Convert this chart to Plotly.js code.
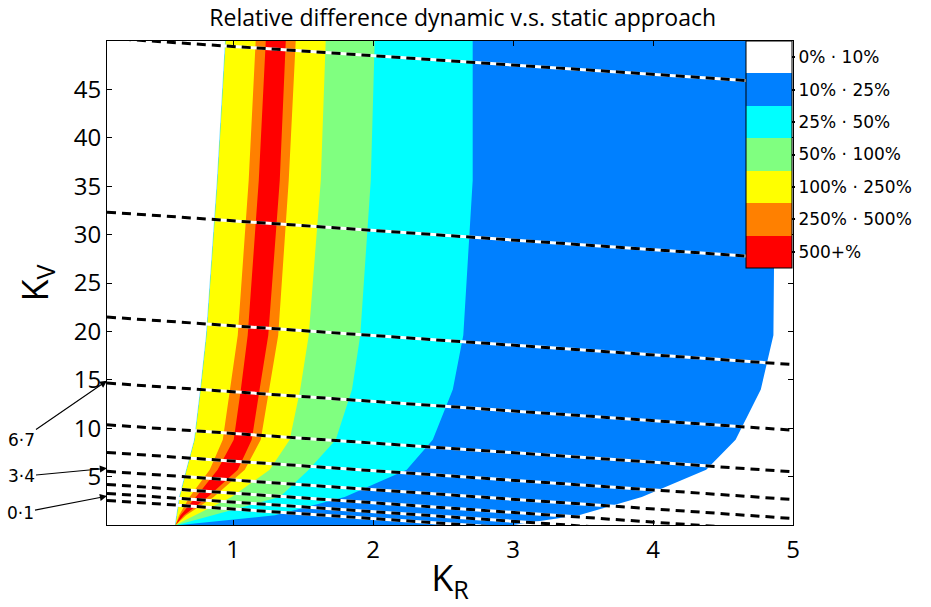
<!DOCTYPE html>
<html><head><meta charset="utf-8">
<script src="https://cdn.plot.ly/plotly-3.0.1.min.js"></script>
<style>html,body{margin:0;padding:0;background:#fff}</style>
</head><body><div id="chart" style="width:931px;height:607px"></div>
<script>
// Rows of K_V at which the band boundaries (in K_R) were read
const kvRows = [0, 1.0, 2.9, 5.7, 8.8, 14.0, 19.6, 35.6, 50];
// Left edge of the computed region (white to the left)
const edgeKR = [0.59, 0.60, 0.62, 0.67, 0.727, 0.77, 0.812, 0.89, 0.948];
// 250% and 500% rising boundaries
const up250 = [0.59, 0.615, 0.69, 0.834, 0.927, 0.98, 1.034, 1.112, 1.162];
const up500 = [0.59, 0.625, 0.735, 0.89, 1.005, 1.056, 1.105, 1.184, 1.234];
// falling boundaries
const down500 = [0.59, 0.65, 0.82, 1.034, 1.134, 1.19, 1.252, 1.334, 1.377];
const down250 = [0.59, 0.665, 0.862, 1.084, 1.198, 1.26, 1.323, 1.398, 1.448];
const down100 = [0.59, 0.72, 0.99, 1.262, 1.405, 1.48, 1.541, 1.627, 1.662];
const down50  = [0.60, 0.85, 1.334, 1.541, 1.734, 1.85, 1.909, 1.984, 2.012];
const down25  = [0.62, 1.30, 1.798, 2.241, 2.427, 2.57, 2.645, 2.712, 2.712];
const down10  = [3.0, 3.47, 3.92, 4.38, 4.59, 4.77, 4.86, 4.87, 4.87];

// Dashed lines: K_V at K_R = 0.1 and at K_R = 5
const lineX = [0.1, 5];
const lineStartKV = [50.3, 32.32, 21.48, 14.66, 10.35, 7.5, 5.54, 4.19, 3.26, 2.54];
const lineEndKV   = [45.6, 27.45, 16.57, 9.79, 5.49, 2.63, 0.67, -0.7, -1.6, -2.3];

// Colour bands (top of the colour bar first)
const bandLabels = ['0% · 10%', '10% · 25%', '25% · 50%', '50% · 100%', '100% · 250%', '250% · 500%', '500+%'];
const bandColors = ['#FFFFFF', '#0080FF', '#00FFFF', '#80FF80', '#FFFF00', '#FF8000', '#FF0000'];

// Arrow labels
const arrowTexts = ['6·7', '3·4', '0·1'];
const arrowKV = [14.9, 5.85, 2.99];

const xTicks = [1, 2, 3, 4, 5];
const yTicks = [5, 10, 15, 20, 25, 30, 35, 40, 45];

function band(left, right, color) {
  return {
    type: 'scatter', mode: 'lines', fill: 'toself', fillcolor: color,
    line: {width: 0, color: color}, hoverinfo: 'skip', showlegend: false,
    x: left.concat(right.slice().reverse()),
    y: kvRows.concat(kvRows.slice().reverse())
  };
}

const traces = [];
traces.push({type: 'scatter', mode: 'lines', x: edgeKR, y: kvRows,
  line: {color: '#7FE0FF', width: 1.5}, hoverinfo: 'skip', showlegend: false});
traces.push(band(edgeKR, down10, bandColors[1]));
traces.push(band(edgeKR, down25, bandColors[2]));
traces.push(band(edgeKR, down50, bandColors[3]));
traces.push(band(edgeKR, down100, bandColors[4]));
traces.push(band(up250, down250, bandColors[5]));
traces.push(band(up500, down500, bandColors[6]));

for (let i = 0; i < lineStartKV.length; i++) {
  traces.push({type: 'scatter', mode: 'lines', x: lineX, y: [lineStartKV[i], lineEndKV[i]],
    line: {color: '#FFFFFF', width: 3}, hoverinfo: 'skip', showlegend: false});
  traces.push({type: 'scatter', mode: 'lines', x: lineX, y: [lineStartKV[i], lineEndKV[i]],
    line: {color: '#000000', width: 3, dash: '9px,6px'}, hoverinfo: 'skip', showlegend: false});
}

// colour bar (reversed so the lowest band sits on top)
const n = bandColors.length;
const cs = [];
for (let k = 0; k < n; k++) {
  const c = bandColors[n - 1 - k];
  cs.push([k / n, c]); cs.push([(k + 1) / n, c]);
}
traces.push({type: 'scatter', mode: 'markers', x: [-10], y: [-10], hoverinfo: 'skip', showlegend: false,
  marker: {color: [0], cmin: 0, cmax: n, colorscale: cs, showscale: true, size: 1,
    colorbar: {x: 0.931, xanchor: 'left', y: 1, yanchor: 'top', len: 0.468, lenmode: 'fraction',
      thickness: 46, thicknessmode: 'pixels', xpad: 0, ypad: 0, outlinewidth: 1, outlinecolor: '#000',
      tickmode: 'array', tickvals: bandLabels.map((_, i) => n - 0.5 - i), ticktext: bandLabels,
      ticks: 'outside', ticklen: 3, tickwidth: 2, tickcolor: '#000',
      tickfont: {family: 'DejaVu Sans', size: 17, color: '#000'}}}});

const annotations = arrowTexts.map((t, i) => ({
  text: t, xref: 'paper', x: 0, yref: 'y', y: arrowKV[i],
  ax: [-86, -86, -87][i], ay: [59, 8, 17][i], showarrow: true,
  arrowhead: 2, arrowsize: 1.3, arrowwidth: 1.1, arrowcolor: '#000',
  font: {family: 'DejaVu Sans', size: 17, color: '#000'}
}));

const layout = {
  width: 931, height: 607,
  margin: {l: 107, r: 138, t: 41, b: 82, pad: 0},
  paper_bgcolor: '#fff', plot_bgcolor: '#fff',
  title: {text: 'Relative difference dynamic v.s. static approach', x: 0.497, xanchor: 'center', y: 0.97, yanchor: 'middle',
    font: {family: 'Open Sans', size: 23, color: '#000'}},
  xaxis: {range: [0.1, 5], tickvals: xTicks, ticks: 'inside', ticklen: 5, tickcolor: '#000',
    showline: true, linecolor: '#000', linewidth: 1, mirror: 'ticks', showgrid: false, zeroline: false,
    ticklabelstandoff: 3,
    tickfont: {family: 'Open Sans', size: 24, color: '#000'},
    title: {text: 'K<sub>R</sub>', font: {family: 'Open Sans', size: 36, color: '#000'}, standoff: 2}},
  yaxis: {range: [0, 50], tickvals: yTicks, ticks: 'inside', ticklen: 5, tickcolor: '#000',
    showline: true, linecolor: '#000', linewidth: 1, mirror: 'ticks', showgrid: false, zeroline: false,
    ticklabelstandoff: 0,
    tickfont: {family: 'Open Sans', size: 24, color: '#000'},
    title: {text: 'K<sub>V</sub>', font: {family: 'Open Sans', size: 36, color: '#000'}, standoff: 14}},
  annotations: annotations,
  showlegend: false
};

Plotly.newPlot('chart', traces, layout, {staticPlot: true});
</script></body></html>
